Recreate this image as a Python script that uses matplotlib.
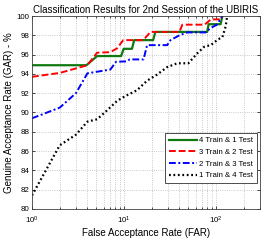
import matplotlib
matplotlib.use("Agg")
import matplotlib.pyplot as plt
from matplotlib.ticker import LogLocator, FixedLocator, NullFormatter

plt.rcParams['font.family'] = ['Liberation Sans', 'DejaVu Sans']
plt.rcParams['mathtext.fontset'] = 'custom'
plt.rcParams['mathtext.rm'] = 'Liberation Sans'

# --- data ---
labels = ["4 Train & 1 Test", "3 Train & 2 Test", "2 Train & 3 Test", "1 Train & 4 Test"]

far_4tr = [1, 3.9, 5.1, 9.3, 9.9, 12.2, 12.9, 20.7, 21.9, 80, 83, 112, 117]
gar_4tr = [94.9, 94.9, 95.85, 95.85, 96.6, 96.6, 97.5, 97.5, 98.35, 98.35, 99.15, 99.15, 100]

far_3tr = [1, 2, 4, 5.1, 7.1, 8.4, 9.8, 16.2, 19.4, 40, 43, 75, 88, 112, 117]
gar_3tr = [93.7, 94.1, 94.9, 96.2, 96.25, 96.65, 97.5, 97.5, 98.35, 98.35, 99.1, 99.1, 99.65, 99.65, 100]

far_2tr = [1, 2, 3, 4, 4.9, 7.1, 8.2, 10.8, 11.5, 16.3, 17.8, 29.4, 32, 40, 48.5, 77, 87.5, 102, 117]
gar_2tr = [89.4, 90.5, 92.0, 94.06, 94.2, 94.45, 95.26, 95.3, 95.5, 95.5, 96.98, 96.98, 97.5, 98.0,
           98.3, 98.3, 98.76, 99.1, 100]

far_1tr = [1, 2, 3, 4, 5.1, 6.5, 8.4, 10.3, 13.8, 17.8, 22.6, 29.4, 37.8, 50, 62, 74, 88, 106, 117, 127, 132]
gar_1tr = [81.4, 86.6, 87.7, 89.05, 89.3, 90.2, 91.2, 91.7, 92.3, 93.3, 93.9, 94.7, 95.1, 95.1,
           96.1, 96.8, 97.0, 97.6, 97.8, 98.9, 100]

y_ticks = [80, 82, 84, 86, 88, 90, 92, 94, 96, 98, 100]

fig = plt.figure(figsize=(2.64, 2.41), dpi=100)
ax = fig.add_axes([0.1212, 0.1328, 0.8636, 0.8008])

ax.plot(far_4tr, gar_4tr, '-', color='#107810', lw=1.6, label=labels[0])
ax.plot(far_3tr, gar_3tr, '--', color='#ff0000', lw=1.4, dashes=(3.5, 1.5), label=labels[1])
ax.plot(far_2tr, gar_2tr, '-.', color='#0000ff', lw=1.4, dashes=(3.5, 1.3, 1, 1.3), label=labels[2])
ax.plot(far_1tr, gar_1tr, ':', color='#000000', lw=1.6, dashes=(0.8, 1.2), label=labels[3])

ax.set_xscale('log')
ax.set_xlim(1, 300)
ax.set_ylim(80, 100)
ax.yaxis.set_major_locator(FixedLocator(y_ticks))
ax.xaxis.set_major_locator(LogLocator(base=10, numticks=10))
ax.xaxis.set_minor_locator(LogLocator(base=10, subs=range(2, 10), numticks=20))
ax.xaxis.set_minor_formatter(NullFormatter())

ax.grid(True, which='major', color='#b8b8b8', linestyle=':', lw=0.6)
ax.grid(True, which='minor', axis='x', color='#b8b8b8', linestyle=':', lw=0.6)

ax.tick_params(which='both', direction='in', labelsize=5.7, width=0.5,
               top=True, right=True)
ax.tick_params(axis='y', pad=2)
ax.tick_params(axis='x', pad=4)
ax.tick_params(which='major', length=2.5)
ax.tick_params(which='minor', length=1.5)
for s in ax.spines.values():
    s.set_linewidth(0.6)
    s.set_color('#404040')

ax.set_title("Classification Results for 2nd Session of the UBIRIS", fontsize=7.0, pad=2.5)
ax.set_xlabel("False Acceptance Rate (FAR)", fontsize=7.0, labelpad=1.5)
ax.set_ylabel("Genuine Acceptance Rate (GAR) - %", fontsize=7.0, labelpad=1.5)

leg = ax.legend(loc='lower right', bbox_to_anchor=(0.987, 0.133), borderaxespad=0,
                fontsize=5.6, handlelength=3.6, fancybox=False, framealpha=1,
                edgecolor='#303030', labelspacing=0.55, borderpad=0.5, handletextpad=0.3)
leg.get_frame().set_linewidth(0.6)

fig.savefig("out.png", dpi=100)
